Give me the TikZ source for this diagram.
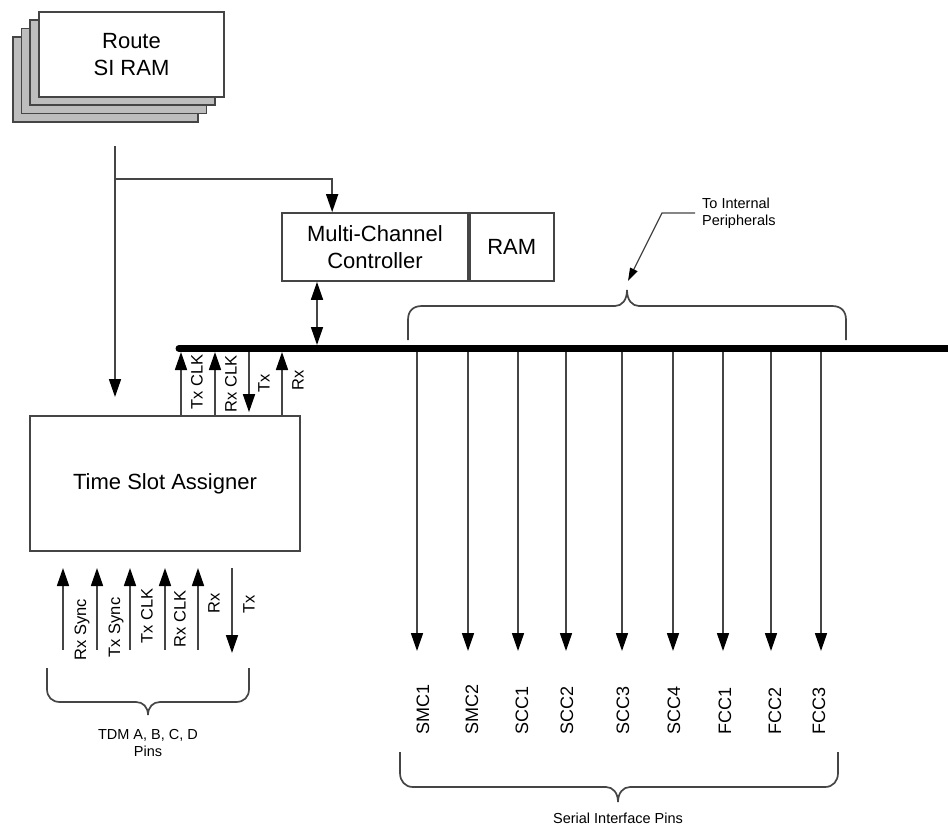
\documentclass[tikz,border=0pt]{standalone}
\usepackage{fontspec}
\setmainfont{Liberation Sans}
\usetikzlibrary{arrows.meta}
\definecolor{lc}{HTML}{454545}
\definecolor{stackgray}{HTML}{BDBDBD}
\begin{document}
\begin{tikzpicture}[x=1pt,y=-1pt,
  ln/.style={draw=lc, line width=1.7pt},
  tri/.style={-{Triangle[length=18pt,width=12pt,color=black]}},
  dtri/.style={{Triangle[length=18pt,width=12pt,color=black]}-{Triangle[length=18pt,width=12pt,color=black]}},
  stri/.style={-{Triangle[length=13pt,width=8pt,color=black]}},
  box/.style={draw=lc, line width=1.7pt, fill=white, inner sep=0pt, align=center, font=\fontsize{22}{27}\selectfont},
  stk/.style={draw=lc, line width=1.7pt, fill=stackgray, minimum width=185pt, minimum height=85pt, inner sep=0pt},
  lab/.style={rotate=90, inner sep=0pt, font=\fontsize{16.5}{18}\selectfont},
  pin/.style={rotate=90, anchor=west, inner sep=0pt, font=\fontsize{18}{20}\selectfont},
  small/.style={inner sep=0pt, align=center, font=\fontsize{14.5}{17}\selectfont}
]
\useasboundingbox (0,0) rectangle (948,825);

% Route SI RAM stack
\node[stk] (s4) at (105.5,79.5) {};
\node[stk] (s3) at (114,71) {};
\node[stk] (s2) at (122.5,62.5) {};
\node[box, minimum width=185pt, minimum height=85pt] (route) at (131.5,54.5) {Route\\SI RAM};

% Multi-Channel Controller + RAM
\node[box, minimum width=186pt, minimum height=68pt] (mcc) at (375,247) {Multi-Channel\\Controller};
\node[box, minimum width=84pt, minimum height=68pt, anchor=west] (ram) at (mcc.east) {RAM};

% Time Slot Assigner
\node[box, minimum width=270pt, minimum height=135pt] (tsa) at (165,483.5) {Time Slot Assigner};

% Route connections
\coordinate (rs) at (115,146);
\coordinate (re) at (115,397);
\coordinate (br) at (115,179);
\coordinate (mccin) at ([xshift=51pt]mcc.north west);
\draw[ln,tri] (rs) -- (re);
\draw[ln,tri] (br) -| (mccin);

% Bus
\coordinate (busL) at (179,348.5);
\coordinate (busR) at (952,348.5);
\draw[line width=7pt, line cap=round] (busL) -- (busR);

% MCC <-> bus
\coordinate (bm) at (317,345);
\draw[ln,dtri] (bm |- mcc.south) -- (bm);

% TSA <-> bus
\coordinate (t1) at (181,352);
\coordinate (t2) at (215,352);
\coordinate (t3) at (249,352);
\coordinate (t4) at (282,352);
\draw[ln,tri] (t1 |- tsa.north) -- (t1);
\draw[ln,tri] (t2 |- tsa.north) -- (t2);
\draw[ln,tri] (t3) -- ([yshift=3pt]t3 |- tsa.north);
\draw[ln,tri] (t4 |- tsa.north) -- (t4);
\node[lab] (l1) at (197,382) {Tx CLK};
\node[lab] (l2) at (231,384) {Rx CLK};
\node[lab] (l3) at (264,383) {Tx};
\node[lab] (l4) at (298,380) {Rx};

% TDM pins
\foreach \x/\n in {63/a,97/b,130/c,165/d,198/e}{
  \coordinate (d\n) at (\x,650);
  \coordinate (u\n) at (\x,568);
  \draw[ln,tri] (d\n) -- (u\n);
}
\coordinate (uf) at (232,568);
\coordinate (df) at (232,653);
\draw[ln,tri] (uf) -- (df);
\node[lab] (m1) at (82,630) {Rx Sync};
\node[lab] (m2) at (116,627.5) {Tx Sync};
\node[lab] (m3) at (147,616) {Tx CLK};
\node[lab] (m4) at (180,619) {Rx CLK};
\node[lab] (m5) at (214,603) {Rx};
\node[lab] (m6) at (249,604) {Tx};

% TDM brace
\draw[ln] (47,668) -- (47,689) .. controls (47,697) and (52,702) .. (60,702) -- (136,702)
  .. controls (143,702) and (148,707) .. (148,715)
  .. controls (148,707) and (153,702) .. (160,702) -- (236,702)
  .. controls (244,702) and (249,697) .. (249,689) -- (249,668);
\node[small] (tdm) at (148,743) {TDM A, B, C, D\\Pins};

% Serial pins
\foreach \x/\lx/\t in {417/423/SMC1,468/472/SMC2,518/522/SCC1,566/567/SCC2,622/623/SCC3,673/674/SCC4,723/725/FCC1,771/775/FCC2,821/819/FCC3}{
  \coordinate (s\t) at (\x,352);
  \coordinate (e\t) at (\x,651);
  \draw[ln,tri] (s\t) -- (e\t);
  \node[pin] (n\t) at (\lx,735) {\t};
}

% Serial brace
\draw[ln] (400,752) -- (400,773) .. controls (400,781) and (405,787) .. (413,787) -- (606,787)
  .. controls (613,787) and (618,793) .. (618,802)
  .. controls (618,793) and (623,787) .. (630,787) -- (825,787)
  .. controls (833,787) and (838,781) .. (838,773) -- (838,752);
\node[small] (sip) at (618,818) {Serial Interface Pins};

% Internal peripherals brace
\draw[ln] (408,340) -- (408,320) .. controls (408,311) and (413,306) .. (422,306) -- (615,306)
  .. controls (622,306) and (627,300) .. (627,290)
  .. controls (627,300) and (632,306) .. (639,306) -- (832,306)
  .. controls (841,306) and (846,311) .. (846,320) -- (846,340);
\node[small, anchor=west, align=left] (tip) at (702,213) {To Internal\\Peripherals};
\coordinate (tk) at (662,213);
\coordinate (tt) at (628,281);
\draw[ln, line width=1.3pt, stri] ([xshift=-7pt]tip.west) -- (tk) -- (tt);
\end{tikzpicture}
\end{document}
